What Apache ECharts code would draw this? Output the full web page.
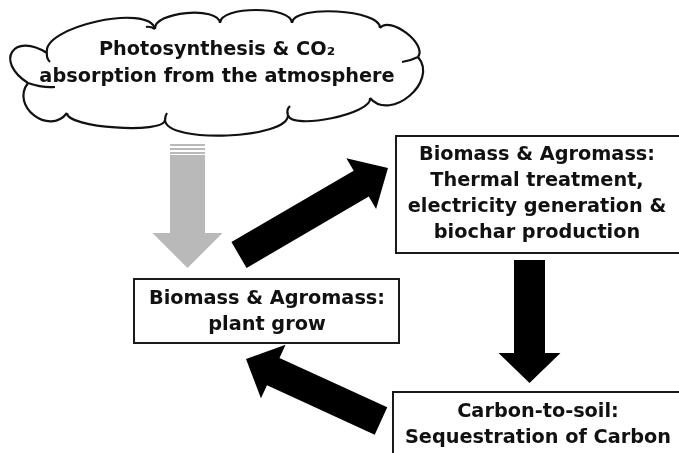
<!DOCTYPE html>
<html>
<head>
<meta charset="utf-8">
<script src="https://cdn.jsdelivr.net/npm/echarts@6/dist/echarts.min.js"></script>
<style>
  html, body { margin: 0; padding: 0; background: #fff; }
  #main { width: 679px; height: 453px; }
</style>
</head>
<body>
<div id="main"></div>
<script>
// Texts of the diagram
var cloudLines = ['Photosynthesis & CO\u2082', 'absorption from the atmosphere'];
var treatmentLines = ['Biomass & Agromass:', 'Thermal treatment,', 'electricity generation &', 'biochar production'];
var growLines = ['Biomass & Agromass:', 'plant grow'];
var soilLines = ['Carbon-to-soil:', 'Sequestration of Carbon'];

// Layout (pixels)
var FONT = 'bold 19.3px "DejaVu Sans", Verdana, sans-serif';
var LINE_H = 26;
var cloudPts = [[28, 83], [47, 53], [155, 29], [220, 23], [292, 23], [380, 28],
                [418, 57], [370, 98], [288, 115], [165, 120], [67, 113]];
var cloudBulge = [30, 20, 13, 13, 14, 12, 24, 12, 18, 11, 22];
var cloudCenter = [215, 72];

var boxes = [
  { x: 396, y: 136, w: 290, h: 117, cx: 537, y0: 155, lines: treatmentLines },
  { x: 134, y: 279, w: 265, h: 64,  cx: 267, y0: 299, lines: growLines },
  { x: 393, y: 392, w: 300, h: 90,  cx: 538, y0: 412, lines: soilLines }
];

// arrow: tail centre, tip, shaft width, head width, head length
var arrows = [
  { from: [187.5, 155], to: [187.5, 268], w: 35, hw: 70, hl: 35, color: '#b9b9b9' },
  { from: [239, 255], to: [388, 168], w: 30, hw: 59, hl: 31, color: '#000' },
  { from: [529.5, 260], to: [529.5, 383], w: 31, hw: 62, hl: 30, color: '#000' },
  { from: [381, 421], to: [246, 359], w: 30, hw: 59, hl: 30, color: '#000' }
];

function arrowPoints(a) {
  var dx = a.to[0] - a.from[0], dy = a.to[1] - a.from[1];
  var len = Math.sqrt(dx * dx + dy * dy);
  var ux = dx / len, uy = dy / len;
  var nx = -uy, ny = ux;
  var bx = a.to[0] - ux * a.hl, by = a.to[1] - uy * a.hl;
  var t = a.from;
  return [
    [t[0] + nx * a.w / 2, t[1] + ny * a.w / 2],
    [bx + nx * a.w / 2, by + ny * a.w / 2],
    [bx + nx * a.hw / 2, by + ny * a.hw / 2],
    a.to,
    [bx - nx * a.hw / 2, by - ny * a.hw / 2],
    [bx - nx * a.w / 2, by - ny * a.w / 2],
    [t[0] - nx * a.w / 2, t[1] - ny * a.w / 2]
  ];
}

var elements = [];

// cloud outline: one cubic lobe between each pair of points
cloudPts.forEach(function (p, i) {
  var q = cloudPts[(i + 1) % cloudPts.length];
  var mx = (p[0] + q[0]) / 2, my = (p[1] + q[1]) / 2;
  var dx = q[0] - p[0], dy = q[1] - p[1];
  var len = Math.sqrt(dx * dx + dy * dy);
  var nx = -dy / len, ny = dx / len;
  if (nx * (mx - cloudCenter[0]) + ny * (my - cloudCenter[1]) < 0) { nx = -nx; ny = -ny; }
  var k = cloudBulge[i] * 4 / 3;
  elements.push({
    type: 'bezierCurve',
    shape: { x1: p[0], y1: p[1], x2: q[0], y2: q[1],
             cpx1: p[0] + nx * k, cpy1: p[1] + ny * k,
             cpx2: q[0] + nx * k, cpy2: q[1] + ny * k },
    style: { fill: null, stroke: '#111', lineWidth: 2.2 }
  });
});
// little inner strokes of the cloud
var tails = [
  [28, 83, 42, 88, 55, 87], [47, 53, 46, 58, 50, 62], [155, 29, 150, 26, 146, 27],
  [418, 57, 410, 61, 402, 62], [288, 115, 286, 110, 290, 106], [165, 120, 165, 116, 167, 113]
];
tails.forEach(function (t) {
  elements.push({
    type: 'bezierCurve',
    shape: { x1: t[0], y1: t[1], cpx1: t[2], cpy1: t[3], x2: t[4], y2: t[5] },
    style: { fill: null, stroke: '#111', lineWidth: 2.2 }
  });
});
cloudLines.forEach(function (s, i) {
  elements.push({
    type: 'text',
    style: { text: s, x: 217, y: 50 + i * 27, font: FONT, fill: '#111',
             textAlign: 'center', textVerticalAlign: 'middle' }
  });
});

// gray stripes above the gray arrow
[145, 149, 153].forEach(function (y) {
  elements.push({
    type: 'rect',
    shape: { x: 170, y: y - 1, width: 35, height: 2 },
    style: { fill: '#b9b9b9' }
  });
});

// arrows
arrows.forEach(function (a) {
  elements.push({
    type: 'polygon',
    shape: { points: arrowPoints(a) },
    style: { fill: a.color }
  });
});

// boxes
boxes.forEach(function (b) {
  elements.push({
    type: 'rect',
    shape: { x: b.x, y: b.y, width: b.w, height: b.h },
    style: { fill: '#fff', stroke: '#1a1a1a', lineWidth: 2 }
  });
  b.lines.forEach(function (s, i) {
    elements.push({
      type: 'text',
      style: { text: s, x: b.cx, y: b.y0 + i * LINE_H, font: FONT, fill: '#111',
               textAlign: 'center', textVerticalAlign: 'middle' }
    });
  });
});

var chart = echarts.init(document.getElementById('main'), null, { renderer: 'canvas' });
chart.setOption({
  backgroundColor: '#fff',
  animation: false,
  graphic: { elements: elements }
});
</script>
</body>
</html>
